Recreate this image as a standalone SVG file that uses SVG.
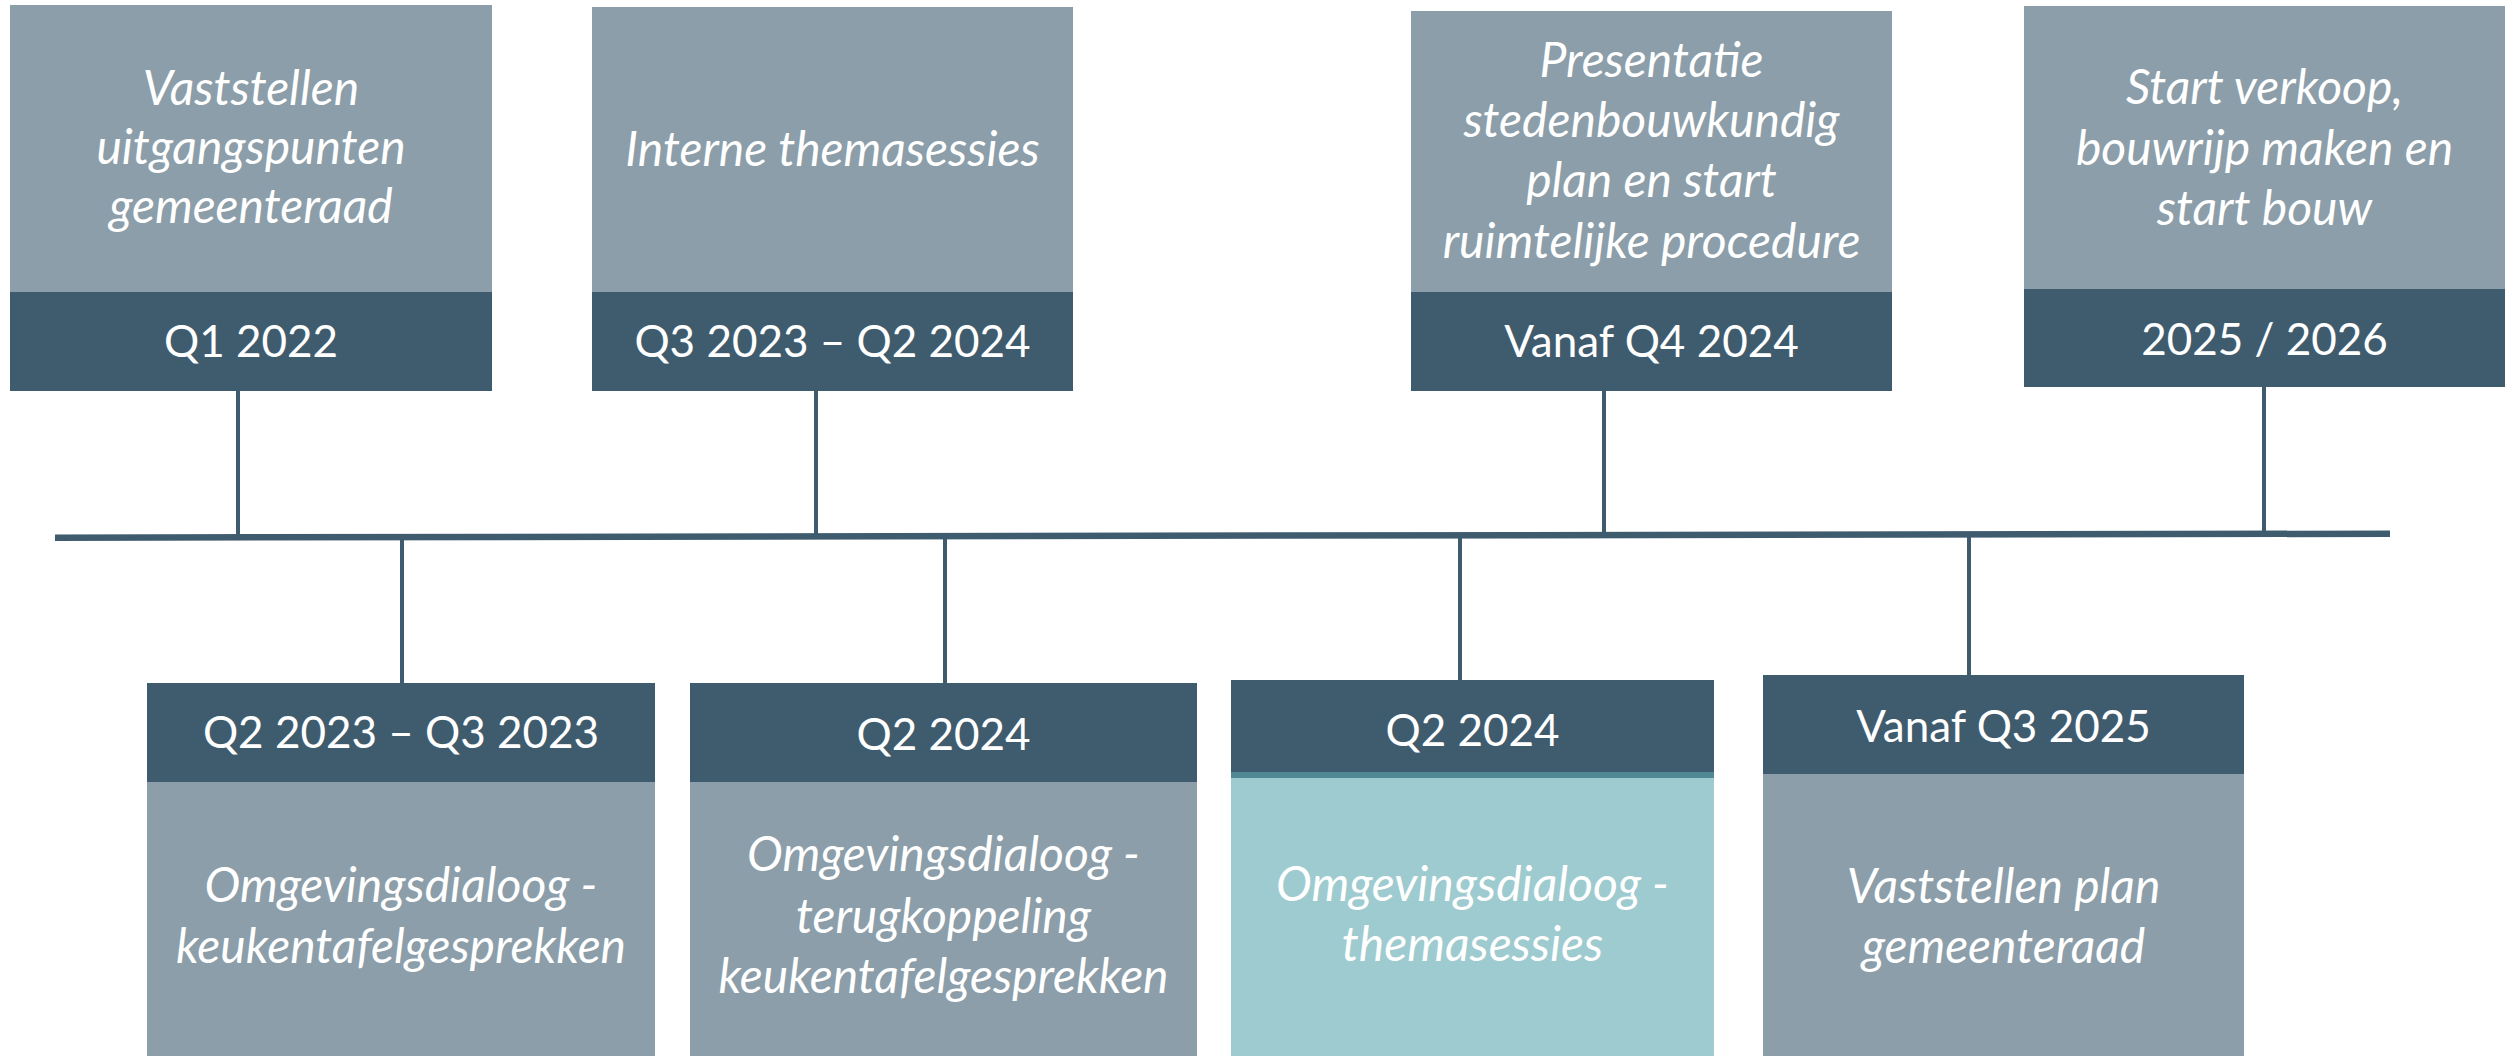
<svg xmlns="http://www.w3.org/2000/svg" width="2518" height="1056" viewBox="0 0 2518 1056">
<style>
.bg{fill:#ffffff}
.light{fill:#8b9ea9}
.dark{fill:#3f5c6f}
.teal{fill:#9ecbcf}
.strip{fill:#4f8a94}
.desc{font-family:Lato,"Open Sans","Liberation Sans",sans-serif;font-style:italic;font-size:48px;fill:#ffffff;text-anchor:middle}
.date{font-family:Lato,"Open Sans","Liberation Sans",sans-serif;font-size:44px;fill:#ffffff;text-anchor:middle}
.conn{stroke:#3f5c6f;stroke-width:4;fill:none}
.axis{stroke:#3f5c6f;stroke-width:6.5;fill:none}
</style>
<rect class="bg" x="0" y="0" width="2518" height="1056"/>
<g id="connectors">
<line class="axis" x1="55" y1="537.7" x2="2390" y2="533.7"/>
<line class="conn" x1="238" y1="391" x2="238" y2="537"/>
<line class="conn" x1="816" y1="391" x2="816" y2="536"/>
<line class="conn" x1="1604" y1="391" x2="1604" y2="535"/>
<line class="conn" x1="2264" y1="387" x2="2264" y2="534"/>
<line class="conn" x1="402" y1="537" x2="402" y2="684"/>
<line class="conn" x1="945" y1="536" x2="945" y2="684"/>
<line class="conn" x1="1460" y1="535" x2="1460" y2="681"/>
<line class="conn" x1="1969" y1="534" x2="1969" y2="676"/>
</g>
<g id="top1">
<rect class="light" x="10" y="5" width="482" height="287"/>
<rect class="dark" x="10" y="292" width="482" height="99"/>
<text class="desc" x="251" y="105">Vaststellen</text>
<text class="desc" x="251" y="164">uitgangspunten</text>
<text class="desc" x="251" y="223">gemeenteraad</text>
<text class="date" x="251" y="357">Q1 2022</text>
</g>
<g id="top2">
<rect class="light" x="592" y="7" width="481" height="285"/>
<rect class="dark" x="592" y="292" width="481" height="99"/>
<text class="desc" x="832.5" y="166">Interne themasessies</text>
<text class="date" x="832.5" y="357">Q3 2023 – Q2 2024</text>
</g>
<g id="top3">
<rect class="light" x="1411" y="11" width="481" height="281"/>
<rect class="dark" x="1411" y="292" width="481" height="99"/>
<text class="desc" x="1651.5" y="77">Presentatie</text>
<text class="desc" x="1651.5" y="137">stedenbouwkundig</text>
<text class="desc" x="1651.5" y="197">plan en start</text>
<text class="desc" x="1651.5" y="258">ruimtelijke procedure</text>
<text class="date" x="1651.5" y="357">Vanaf Q4 2024</text>
</g>
<g id="top4">
<rect class="light" x="2024" y="6" width="481" height="283"/>
<rect class="dark" x="2024" y="289" width="481" height="98"/>
<text class="desc" x="2264.5" y="104">Start verkoop,</text>
<text class="desc" x="2264.5" y="165">bouwrijp maken en</text>
<text class="desc" x="2264.5" y="225">start bouw</text>
<text class="date" x="2264.5" y="355">2025 / 2026</text>
</g>
<g id="bottom1">
<rect class="dark" x="147" y="683" width="508" height="99"/>
<rect class="light" x="147" y="782" width="508" height="274"/>
<text class="date" x="401" y="748">Q2 2023 – Q3 2023</text>
<text class="desc" x="401" y="902">Omgevingsdialoog -</text>
<text class="desc" x="401" y="963">keukentafelgesprekken</text>
</g>
<g id="bottom2">
<rect class="dark" x="690" y="683" width="507" height="99"/>
<rect class="light" x="690" y="782" width="507" height="274"/>
<text class="date" x="943.5" y="750">Q2 2024</text>
<text class="desc" x="943.5" y="871">Omgevingsdialoog -</text>
<text class="desc" x="943.5" y="933">terugkoppeling</text>
<text class="desc" x="943.5" y="993">keukentafelgesprekken</text>
</g>
<g id="bottom3">
<rect class="dark" x="1231" y="680" width="483" height="92"/>
<rect class="strip" x="1231" y="772" width="483" height="6"/>
<rect class="teal" x="1231" y="778" width="483" height="278"/>
<text class="date" x="1472.5" y="746">Q2 2024</text>
<text class="desc" x="1472.5" y="901">Omgevingsdialoog -</text>
<text class="desc" x="1472.5" y="961">themasessies</text>
</g>
<g id="bottom4">
<rect class="dark" x="1763" y="675" width="481" height="99"/>
<rect class="light" x="1763" y="774" width="481" height="282"/>
<text class="date" x="2003.5" y="742">Vanaf Q3 2025</text>
<text class="desc" x="2003.5" y="903">Vaststellen plan</text>
<text class="desc" x="2003.5" y="963">gemeenteraad</text>
</g>
</svg>
